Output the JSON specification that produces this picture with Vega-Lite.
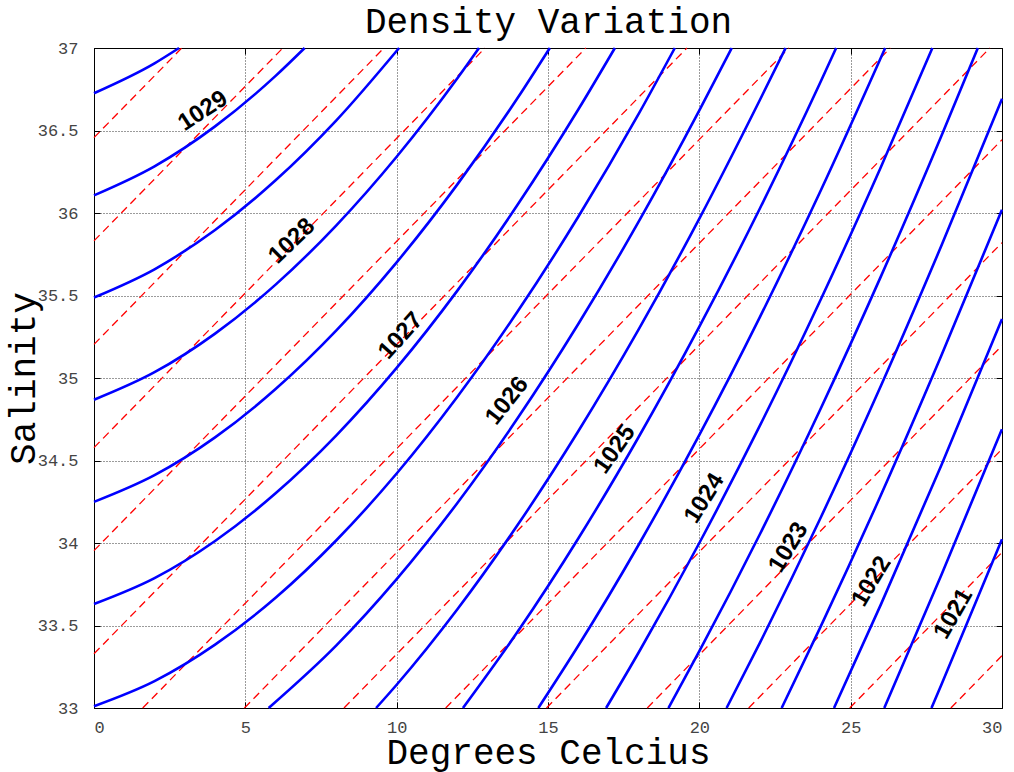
{
  "$schema": "https://vega.github.io/schema/vega-lite/v6.json",
  "width": 908,
  "height": 660,
  "autosize": "none",
  "padding": {"left": 94, "top": 48, "right": 12, "bottom": 64},
  "background": "white",
  "config": {
    "view": {"stroke": null},
    "axis": {
      "domainColor": "#000", "domainWidth": 1,
      "tickColor": "#000", "tickSize": -6, "tickWidth": 1,
      "labelFont": "Liberation Mono", "labelFontSize": 17, "labelColor": "#444",
      "titleFont": "Liberation Mono", "titleFontSize": 36, "titleFontWeight": "normal", "titleColor": "#000",
      "gridColor": "#222", "gridDash": [1, 2], "gridWidth": 1, "gridOpacity": 0.9
    }
  },
  "datasets": {
    "blue": [
      {"line": 1, "T": 0, "S": 36.726}, {"line": 1, "T": 2, "S": 36.907}, {"line": 1, "T": 2.81, "S": 37},
      {"line": 2, "T": 0, "S": 36.107}, {"line": 2, "T": 2, "S": 36.283}, {"line": 2, "T": 4, "S": 36.525}, {"line": 2, "T": 6, "S": 36.831}, {"line": 2, "T": 6.96, "S": 37},
      {"line": 3, "T": 0, "S": 35.488}, {"line": 3, "T": 2, "S": 35.659}, {"line": 3, "T": 4, "S": 35.897}, {"line": 3, "T": 6, "S": 36.198}, {"line": 3, "T": 8, "S": 36.560}, {"line": 3, "T": 10.08, "S": 37},
      {"line": 4, "T": 0, "S": 34.868}, {"line": 4, "T": 2, "S": 35.035}, {"line": 4, "T": 4, "S": 35.269}, {"line": 4, "T": 6, "S": 35.566}, {"line": 4, "T": 8, "S": 35.924}, {"line": 4, "T": 10, "S": 36.341}, {"line": 4, "T": 12, "S": 36.815}, {"line": 4, "T": 12.72, "S": 37},
      {"line": 5, "T": 0, "S": 34.249}, {"line": 5, "T": 2, "S": 34.411}, {"line": 5, "T": 4, "S": 34.640}, {"line": 5, "T": 6, "S": 34.933}, {"line": 5, "T": 8, "S": 35.287}, {"line": 5, "T": 10, "S": 35.701}, {"line": 5, "T": 12, "S": 36.172}, {"line": 5, "T": 14, "S": 36.698}, {"line": 5, "T": 15.06, "S": 37},
      {"line": 6, "T": 0, "S": 33.630}, {"line": 6, "T": 2, "S": 33.787}, {"line": 6, "T": 4, "S": 34.012}, {"line": 6, "T": 6, "S": 34.301}, {"line": 6, "T": 8, "S": 34.651}, {"line": 6, "T": 10, "S": 35.061}, {"line": 6, "T": 12, "S": 35.528}, {"line": 6, "T": 14, "S": 36.051}, {"line": 6, "T": 16, "S": 36.627}, {"line": 6, "T": 17.21, "S": 37},
      {"line": 7, "T": 0, "S": 33.011}, {"line": 7, "T": 2, "S": 33.163}, {"line": 7, "T": 4, "S": 33.384}, {"line": 7, "T": 6, "S": 33.668}, {"line": 7, "T": 8, "S": 34.015}, {"line": 7, "T": 10, "S": 34.421}, {"line": 7, "T": 12, "S": 34.885}, {"line": 7, "T": 14, "S": 35.404}, {"line": 7, "T": 16, "S": 35.977}, {"line": 7, "T": 18, "S": 36.602}, {"line": 7, "T": 19.19, "S": 37},
      {"line": 8, "T": 5.77, "S": 33}, {"line": 8, "T": 8, "S": 33.378}, {"line": 8, "T": 10, "S": 33.781}, {"line": 8, "T": 12, "S": 34.241}, {"line": 8, "T": 14, "S": 34.757}, {"line": 8, "T": 16, "S": 35.327}, {"line": 8, "T": 18, "S": 35.949}, {"line": 8, "T": 20, "S": 36.622}, {"line": 8, "T": 21.07, "S": 37},
      {"line": 9, "T": 9.32, "S": 33}, {"line": 9, "T": 10, "S": 33.141}, {"line": 9, "T": 12, "S": 33.597}, {"line": 9, "T": 14, "S": 34.110}, {"line": 9, "T": 16, "S": 34.677}, {"line": 9, "T": 18, "S": 35.296}, {"line": 9, "T": 20, "S": 35.966}, {"line": 9, "T": 22, "S": 36.685}, {"line": 9, "T": 22.85, "S": 37},
      {"line": 10, "T": 12.19, "S": 33}, {"line": 10, "T": 14, "S": 33.463}, {"line": 10, "T": 16, "S": 34.027}, {"line": 10, "T": 18, "S": 34.644}, {"line": 10, "T": 20, "S": 35.311}, {"line": 10, "T": 22, "S": 36.027}, {"line": 10, "T": 24, "S": 36.792}, {"line": 10, "T": 24.52, "S": 37},
      {"line": 11, "T": 14.68, "S": 33}, {"line": 11, "T": 16, "S": 33.377}, {"line": 11, "T": 18, "S": 33.991}, {"line": 11, "T": 20, "S": 34.655}, {"line": 11, "T": 22, "S": 35.369}, {"line": 11, "T": 24, "S": 36.132}, {"line": 11, "T": 26.14, "S": 37},
      {"line": 12, "T": 16.92, "S": 33}, {"line": 12, "T": 18, "S": 33.338}, {"line": 12, "T": 20, "S": 34.000}, {"line": 12, "T": 22, "S": 34.711}, {"line": 12, "T": 24, "S": 35.471}, {"line": 12, "T": 26, "S": 36.279}, {"line": 12, "T": 27.7, "S": 37},
      {"line": 13, "T": 18.98, "S": 33}, {"line": 13, "T": 20, "S": 33.344}, {"line": 13, "T": 22, "S": 34.053}, {"line": 13, "T": 24, "S": 34.811}, {"line": 13, "T": 26, "S": 35.616}, {"line": 13, "T": 28, "S": 36.468}, {"line": 13, "T": 29.2, "S": 37},
      {"line": 14, "T": 20.9, "S": 33}, {"line": 14, "T": 22, "S": 33.395}, {"line": 14, "T": 24, "S": 34.150}, {"line": 14, "T": 26, "S": 34.953}, {"line": 14, "T": 28, "S": 35.803}, {"line": 14, "T": 30, "S": 36.692},
      {"line": 15, "T": 22.72, "S": 33}, {"line": 15, "T": 24, "S": 33.490}, {"line": 15, "T": 26, "S": 34.291}, {"line": 15, "T": 28, "S": 35.138}, {"line": 15, "T": 30, "S": 36.020},
      {"line": 16, "T": 24.45, "S": 33}, {"line": 16, "T": 26, "S": 33.628}, {"line": 16, "T": 28, "S": 34.473}, {"line": 16, "T": 30, "S": 35.358},
      {"line": 17, "T": 26.11, "S": 33}, {"line": 17, "T": 28, "S": 33.808}, {"line": 17, "T": 30, "S": 34.690},
      {"line": 18, "T": 27.67, "S": 33}, {"line": 18, "T": 28, "S": 33.143}, {"line": 18, "T": 30, "S": 34.023}
    ],
    "red": [
      {"line": 1, "T": 0, "S": 36.457}, {"line": 1, "T": 2.9, "S": 37},
      {"line": 2, "T": 0, "S": 35.831}, {"line": 2, "T": 6.24, "S": 37},
      {"line": 3, "T": 0, "S": 35.204}, {"line": 3, "T": 9.58, "S": 37},
      {"line": 4, "T": 0, "S": 34.578}, {"line": 4, "T": 12.92, "S": 37},
      {"line": 5, "T": 0, "S": 33.954}, {"line": 5, "T": 16.25, "S": 37},
      {"line": 6, "T": 0, "S": 33.329}, {"line": 6, "T": 19.59, "S": 37},
      {"line": 7, "T": 1.61, "S": 33}, {"line": 7, "T": 22.96, "S": 37},
      {"line": 8, "T": 4.97, "S": 33}, {"line": 8, "T": 26.31, "S": 37},
      {"line": 9, "T": 8.26, "S": 33}, {"line": 9, "T": 29.6, "S": 37},
      {"line": 10, "T": 11.62, "S": 33}, {"line": 10, "T": 30, "S": 36.444},
      {"line": 11, "T": 14.95, "S": 33}, {"line": 11, "T": 30, "S": 35.82},
      {"line": 12, "T": 18.28, "S": 33}, {"line": 12, "T": 30, "S": 35.196},
      {"line": 13, "T": 21.63, "S": 33}, {"line": 13, "T": 30, "S": 34.569},
      {"line": 14, "T": 24.97, "S": 33}, {"line": 14, "T": 30, "S": 33.943},
      {"line": 15, "T": 28.31, "S": 33}, {"line": 15, "T": 30, "S": 33.317}
    ],
    "labels": [
      {"label": "1029", "T": 3.6, "S": 36.618},
      {"label": "1028", "T": 6.54, "S": 35.829},
      {"label": "1027", "T": 10.14, "S": 35.254},
      {"label": "1026", "T": 13.65, "S": 34.861},
      {"label": "1025", "T": 17.21, "S": 34.567},
      {"label": "1024", "T": 20.17, "S": 34.27},
      {"label": "1023", "T": 22.95, "S": 33.973},
      {"label": "1022", "T": 25.69, "S": 33.767},
      {"label": "1021", "T": 28.4, "S": 33.571}
    ]
  },
  "layer": [
    {
      "data": {"name": "red"},
      "mark": {"type": "line", "color": "#ff0000", "strokeWidth": 1.3, "strokeDash": [8, 5]},
      "encoding": {
        "x": {"field": "T", "type": "quantitative", "scale": {"domain": [0, 30], "nice": false, "zero": false},
              "axis": {"orient": "bottom", "title": "Degrees Celcius", "values": [0, 5, 10, 15, 20, 25, 30], "format": "~g", "grid": true, "labelPadding": 17, "titlePadding": 0}},
        "y": {"field": "S", "type": "quantitative", "scale": {"domain": [33, 37], "nice": false, "zero": false},
              "axis": {"orient": "left", "title": "Salinity", "values": [33, 33.5, 34, 34.5, 35, 35.5, 36, 36.5, 37], "format": "~g", "grid": true, "labelPadding": 22, "titlePadding": -5}},
        "detail": {"field": "line", "type": "nominal"}
      }
    },
    {
      "data": {"name": "blue"},
      "mark": {"type": "line", "color": "#0000ff", "strokeWidth": 2.6, "interpolate": "monotone"},
      "encoding": {
        "x": {"field": "T", "type": "quantitative",
              "axis": {"orient": "top", "title": "Density Variation", "titlePadding": 7, "labels": false, "grid": false, "values": [0, 5, 10, 15, 20, 25, 30]}},
        "y": {"field": "S", "type": "quantitative",
              "axis": {"orient": "right", "title": null, "labels": false, "grid": false, "values": [33, 33.5, 34, 34.5, 35, 35.5, 36, 36.5, 37]}},
        "detail": {"field": "line", "type": "nominal"}
      }
    },
    {
      "data": {"name": "labels"},
      "mark": {"type": "text", "font": "Liberation Sans", "fontWeight": "bold", "fontSize": 24, "color": "#000", "align": "center", "baseline": "middle"},
      "encoding": {
        "x": {"field": "T", "type": "quantitative", "axis": null},
        "y": {"field": "S", "type": "quantitative", "axis": null},
        "text": {"field": "label"},
        "angle": {"field": "T", "type": "quantitative", "legend": null,
                  "scale": {"domain": [3.6, 6.54, 10.14, 13.65, 17.21, 20.17, 28.4], "range": [327, 316, 312, 308, 305, 302, 300]}}
      }
    }
  ],
  "resolve": {"axis": {"x": "independent", "y": "independent"}}
}
